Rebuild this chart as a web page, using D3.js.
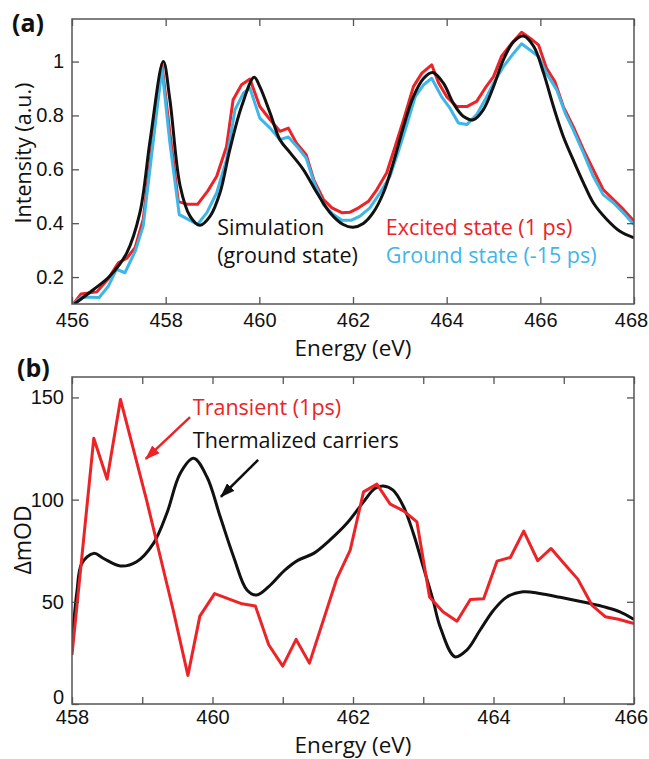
<!DOCTYPE html>
<html><head><meta charset="utf-8">
<script src="https://cdnjs.cloudflare.com/ajax/libs/d3/7.8.5/d3.min.js"></script>
<style>
body{margin:0;background:#fff;}
svg{display:block;font-family:"Open Sans",sans-serif;}
</style></head>
<body><svg id="c" width="649" height="759"></svg>
<script>
// ---------- Panel (a) data ----------
const aExcitedX = [456.03,456.19,456.53,456.78,456.99,457.17,457.35,457.52,457.92,458.10,458.27,458.48,458.68,458.90,459.09,459.30,459.44,459.62,459.80,460.01,460.23,460.44,460.62,460.79,461.00,461.16,461.37,461.55,461.76,461.94,462.12,462.33,462.51,462.72,462.90,463.08,463.29,463.47,463.68,463.83,464.00,464.21,464.43,464.64,464.82,465.00,465.17,465.39,465.60,465.78,465.96,466.13,466.31,466.49,466.70,466.92,467.13,467.34,467.56,467.74,468.00];
const aExcitedY = [0.100,0.137,0.145,0.195,0.253,0.270,0.310,0.414,0.990,0.720,0.480,0.470,0.470,0.520,0.574,0.685,0.858,0.914,0.935,0.833,0.784,0.741,0.753,0.698,0.654,0.562,0.488,0.457,0.439,0.441,0.457,0.481,0.525,0.587,0.685,0.784,0.907,0.957,0.988,0.920,0.870,0.833,0.833,0.852,0.901,0.944,1.019,1.068,1.109,1.087,1.062,0.976,0.926,0.833,0.759,0.673,0.599,0.525,0.488,0.457,0.407];
const aGroundX = [456.03,456.21,456.58,456.78,456.95,457.13,457.35,457.52,457.92,458.09,458.29,458.48,458.68,458.88,459.09,459.30,459.48,459.66,459.80,460.01,460.23,460.44,460.62,460.83,461.00,461.16,461.37,461.58,461.76,461.97,462.15,462.36,462.58,462.79,462.97,463.15,463.33,463.51,463.68,463.89,464.07,464.25,464.43,464.64,464.82,465.00,465.21,465.43,465.60,465.78,465.96,466.13,466.35,466.53,466.70,466.92,467.13,467.34,467.56,467.77,468.00];
const aGroundY = [0.100,0.126,0.124,0.167,0.229,0.216,0.296,0.389,0.975,0.698,0.432,0.414,0.395,0.439,0.513,0.636,0.821,0.883,0.901,0.790,0.753,0.710,0.720,0.679,0.642,0.556,0.469,0.432,0.411,0.411,0.426,0.457,0.513,0.574,0.667,0.766,0.870,0.914,0.938,0.870,0.827,0.772,0.766,0.803,0.858,0.920,0.981,1.031,1.066,1.043,1.019,0.957,0.895,0.809,0.747,0.661,0.574,0.506,0.476,0.439,0.395];
const aSimX = [456.05,456.46,456.81,457.17,457.45,457.67,457.95,458.09,458.31,458.52,458.73,458.95,459.16,459.37,459.62,459.89,460.01,460.23,460.44,460.66,460.94,461.23,461.51,461.79,462.00,462.22,462.43,462.65,462.86,463.08,463.29,463.51,463.70,463.93,464.14,464.36,464.57,464.78,465.00,465.21,465.43,465.64,465.86,466.07,466.28,466.49,466.70,466.92,467.13,467.42,467.70,468.00];
const aSimY = [0.100,0.154,0.204,0.290,0.439,0.710,1.000,0.858,0.537,0.426,0.392,0.426,0.513,0.673,0.833,0.942,0.907,0.809,0.710,0.661,0.599,0.513,0.439,0.395,0.385,0.399,0.439,0.513,0.624,0.759,0.870,0.938,0.959,0.920,0.846,0.796,0.784,0.821,0.907,1.006,1.074,1.095,1.056,0.957,0.833,0.722,0.636,0.550,0.476,0.414,0.370,0.346];
const aXTicks = [456,458,460,462,464,466,468];
const aYTicks = [0.2,0.4,0.6,0.8,1];

// ---------- Panel (b) data ----------
const bTransX = [458.00,458.31,458.50,458.69,459.06,459.44,459.65,459.82,460.03,460.42,460.61,460.80,461.00,461.19,461.38,461.77,461.96,462.15,462.34,462.53,462.72,462.91,463.09,463.28,463.48,463.67,463.86,464.05,464.24,464.43,464.63,464.82,465.01,465.20,465.40,465.59,465.78,466.00];
const bTransY = [24,130,110,149,100,46,14,43,54,49,48,29,18.5,31.6,20,61.4,75.3,103.8,107.6,97.8,94.5,89.1,52.4,45.1,40.5,51.1,51.5,69.9,71.7,84.6,70.1,76.1,68.5,61.1,48.4,42.7,41.5,39.4];
const bThermX = [458.00,458.07,458.14,458.31,458.45,458.69,458.92,459.16,459.35,459.54,459.73,459.92,460.11,460.30,460.49,460.63,460.80,461.03,461.22,461.44,461.67,461.91,462.15,462.31,462.43,462.57,462.72,462.86,463.00,463.14,463.24,463.45,463.62,463.81,464.00,464.19,464.42,464.66,464.95,465.33,465.61,465.80,466.00];
const bThermY = [29.6,55,68.8,73.7,71.2,67.5,69.6,78.6,93.3,112.8,120.2,111.2,91.6,72.1,55.8,53.3,57.4,65.5,70.4,73.7,80.2,88.3,98.9,105.4,106.7,104.6,96.5,83.4,67.1,50.8,37.8,23.1,26.4,36.2,45.9,52.4,54.9,54.1,52.2,49.5,47.2,45.1,41.4];
const bXTicks = [458,459,460,461,462,463,464,465,466];
const bXLabels = [458,460,462,464,466];
const bYTicks = [0,50,100,150];

// annotations in data space (panel b)
const arrowTransient = {x1:459.68, y1:140.4, x2:459.05, y2:119.9};
const arrowThermal = {x1:460.65, y1:119.4, x2:460.12, y2:101.4};

const RED = "#ec2327", BLUE = "#3fb6e8", BLACK = "#111111", FRAME = "#555555";
const svg = d3.select("#c");

const defs = svg.append("defs");
[["ahRed",RED],["ahBlack",BLACK]].forEach(([id,col])=>{
  defs.append("marker").attr("id",id).attr("viewBox","0 0 14 10").attr("refX",13).attr("refY",5)
    .attr("markerWidth",15).attr("markerHeight",11).attr("markerUnits","userSpaceOnUse").attr("orient","auto")
    .append("path").attr("d","M0,0 L14,5 L0,10 Z").attr("fill",col);
});

function frameAxes(g, x, y, xt, xlabels, yt, yfmt, w, h, xmax, ymin, pad){
  const fmtX = d => xlabels.includes(d) ? d : "";
  const styleAxis = sel => {
    sel.select(".domain").remove();
    sel.selectAll(".tick line").attr("stroke",FRAME).attr("stroke-width",1.3);
    sel.selectAll("text").attr("fill","#111").style("font-size","20px");
  };
  const gx = g.append("g").attr("transform",`translate(0,${h})`)
    .call(d3.axisBottom(x).tickValues(xt).tickSize(-7).tickPadding(pad).tickFormat(fmtX)).call(styleAxis);
  gx.selectAll(".tick").filter(d=>d===xmax).select("text").attr("dx",-3);
  g.append("g").call(d3.axisTop(x).tickValues(xt).tickSize(-7).tickFormat("")).call(styleAxis);
  const gy = g.append("g").call(d3.axisLeft(y).tickValues(yt).tickSize(-7).tickPadding(8).tickFormat(yfmt)).call(styleAxis);
  if (ymin !== null) gy.selectAll(".tick").filter(d=>d===ymin).select("text").attr("dy","-0.05em");
  g.append("g").attr("transform",`translate(${w},0)`)
    .call(d3.axisRight(y).tickValues(yt).tickSize(-7).tickFormat("")).call(styleAxis);
  g.append("rect").attr("width",w).attr("height",h).attr("fill","none").attr("stroke",FRAME).attr("stroke-width",1.5);
}

// ---------- Panel (a) ----------
{
  const L=72, T=19, W=634-72, H=304-19;
  const g = svg.append("g").attr("transform",`translate(${L},${T})`);
  const x = d3.scaleLinear().domain([456,468]).range([0,W]);
  const y = d3.scaleLinear().domain([0.1,1.158]).range([H,0]);
  defs.append("clipPath").attr("id","clipA").append("rect").attr("width",W).attr("height",H);
  const lineLin = d3.line().x(d=>x(d[0])).y(d=>y(d[1]));
  const lineSm = d3.line().x(d=>x(d[0])).y(d=>y(d[1])).curve(d3.curveCatmullRom.alpha(0.5));
  const gp = g.append("g").attr("clip-path","url(#clipA)");
  gp.append("path").datum(d3.zip(aExcitedX,aExcitedY)).attr("d",lineLin).attr("fill","none").attr("stroke",RED).attr("stroke-width",3).attr("stroke-linejoin","round");
  gp.append("path").datum(d3.zip(aGroundX,aGroundY)).attr("d",lineLin).attr("fill","none").attr("stroke",BLUE).attr("stroke-width",3).attr("stroke-linejoin","round");
  gp.append("path").datum(d3.zip(aSimX,aSimY)).attr("d",lineSm).attr("fill","none").attr("stroke",BLACK).attr("stroke-width",3);
  frameAxes(g,x,y,aXTicks,aXTicks,aYTicks,d=>d===1?"1":d3.format(".1f")(d),W,H,468,null,9);
  const lt = (tx,ty,t,c)=>g.append("text").attr("x",x(tx)).attr("y",y(ty)).attr("fill",c).style("font-size","21.5px").text(t);
  lt(459.1,0.356,"Simulation","#111");
  lt(459.1,0.252,"(ground state)","#111");
  lt(462.7,0.356,"Excited state (1 ps)",RED);
  lt(462.7,0.252,"Ground state (-15 ps)",BLUE);
  svg.append("text").attr("x",L+W/2).attr("y",356).attr("text-anchor","middle").style("font-size","22.5px").attr("fill","#111").text("Energy (eV)");
  svg.append("text").attr("transform",`translate(31,${153}) rotate(-90)`).attr("text-anchor","middle").style("font-size","21.5px").attr("fill","#111").text("Intensity (a.u.)");
  svg.append("text").attr("x",12).attr("y",32).style("font-size","25px").style("font-weight","bold").attr("fill","#111").text("(a)");
}

// ---------- Panel (b) ----------
{
  const L=72, T=377, W=634-72, H=704-377;
  const g = svg.append("g").attr("transform",`translate(${L},${T})`);
  const x = d3.scaleLinear().domain([458,466]).range([0,W]);
  const y = d3.scaleLinear().domain([0,160]).range([H,0]);
  defs.append("clipPath").attr("id","clipB").append("rect").attr("width",W).attr("height",H);
  const lineLin = d3.line().x(d=>x(d[0])).y(d=>y(d[1]));
  const lineSm = d3.line().x(d=>x(d[0])).y(d=>y(d[1])).curve(d3.curveCatmullRom.alpha(0.5));
  const gp = g.append("g").attr("clip-path","url(#clipB)");
  gp.append("path").datum(d3.zip(bThermX,bThermY)).attr("d",lineSm).attr("fill","none").attr("stroke",BLACK).attr("stroke-width",3);
  gp.append("path").datum(d3.zip(bTransX,bTransY)).attr("d",lineLin).attr("fill","none").attr("stroke",RED).attr("stroke-width",3).attr("stroke-linejoin","round");
  frameAxes(g,x,y,bXTicks,bXLabels,bYTicks,d=>d,W,H,466,0,6);
  g.append("text").attr("x",x(459.72)).attr("y",y(141.5)).attr("fill",RED).style("font-size","21.5px").text("Transient (1ps)");
  g.append("text").attr("x",x(459.72)).attr("y",y(125.5)).attr("fill","#111").style("font-size","21.5px").text("Thermalized carriers");
  g.append("line").attr("x1",x(arrowTransient.x1)).attr("y1",y(arrowTransient.y1)).attr("x2",x(arrowTransient.x2)).attr("y2",y(arrowTransient.y2))
    .attr("stroke",RED).attr("stroke-width",2.5).attr("marker-end","url(#ahRed)");
  g.append("line").attr("x1",x(arrowThermal.x1)).attr("y1",y(arrowThermal.y1)).attr("x2",x(arrowThermal.x2)).attr("y2",y(arrowThermal.y2))
    .attr("stroke",BLACK).attr("stroke-width",2.5).attr("marker-end","url(#ahBlack)");
  svg.append("text").attr("x",L+W/2).attr("y",753).attr("text-anchor","middle").style("font-size","22.5px").attr("fill","#111").text("Energy (eV)");
  svg.append("text").attr("transform",`translate(31,${540}) rotate(-90)`).attr("text-anchor","middle").style("font-size","23px").attr("fill","#111").text("ΔmOD");
  svg.append("text").attr("x",17).attr("y",377).style("font-size","25px").style("font-weight","bold").attr("fill","#111").text("(b)");
}
</script></body></html>
